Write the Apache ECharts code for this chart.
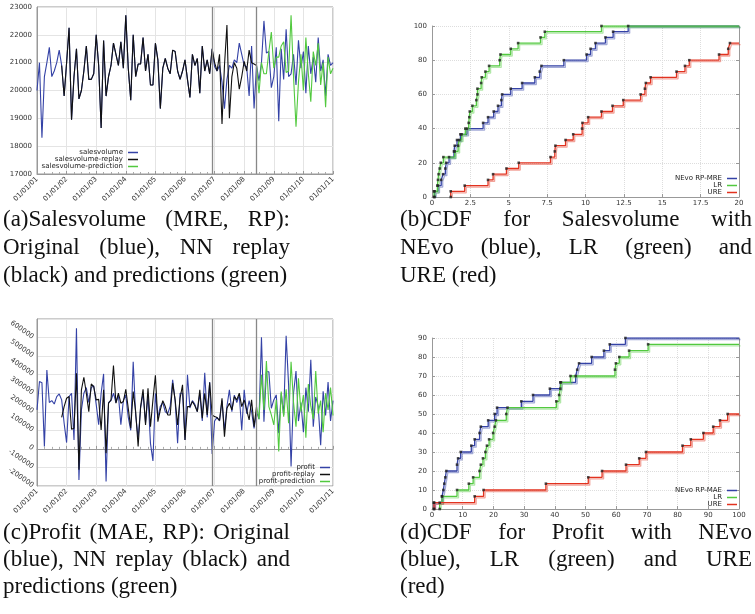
<!DOCTYPE html>
<html>
<head>
<meta charset="utf-8">
<script src="https://cdn.jsdelivr.net/npm/echarts@6/dist/echarts.min.js"></script>
<style>
  html, body { margin: 0; padding: 0; background: #fff; }
  #chart { width: 755px; height: 614px; }
</style>
</head>
<body>
<div id="chart"></div>
<script>
// --- DATA ---
const yearLabels = ['01/01/01', '01/01/02', '01/01/03', '01/01/04', '01/01/05', '01/01/06',
                    '01/01/07', '01/01/08', '01/01/09', '01/01/10', '01/01/11'];
const monthsPerYear = 12;
const splitMonths = [71, 89];   // end of training / end of replay

// monthly values, month 0 = 01/01/01
const salesOriginal = [
  20000, 21000, 18300, 20500, 21000, 21550, 20500, 20700, 21000, 21450,
  20900, 19800, 21000, 22250, 18950, 20500, 21500, 19700, 20000, 20700,
  21600, 20400, 20400, 20600, 22000, 20900, 18650, 21800, 19800, 20500,
  20900, 21700, 21300, 20900, 21750, 20800, 22700, 20800, 19650, 22000,
  20500, 20950, 20950, 21900, 20700, 21300, 20200, 20200, 21700, 21100,
  19350, 20800, 21150, 20800, 20600, 21450, 21400, 20700, 20400, 20700,
  21100, 20400, 19750, 21300, 20900, 21150, 19900, 21600, 20700, 21100,
  20600, 21500,
  20850, 20700, 20900, 20300, 19350, 20400, 20900, 20800, 21100, 21000,
  21700, 21300, 20900, 20850, 19800, 21600, 19350, 20900,
  20350, 21000, 22500, 21350, 21400, 20100, 20500, 21550, 18900, 21500,
  20400, 22200, 20500, 20600, 21300,
  20200, 21800, 20800, 21400, 19900, 21600, 20600, 21200, 20300, 21900,
  20700, 21100, 19800, 21300, 20900, 21000
];
const salesReplayStart = 10;
const salesReplay = [
  20900, 19800, 21000, 22250, 18950, 20500, 21500, 19700, 20000, 20700,
  21600, 20400, 20400, 20600, 22000, 20900, 18650, 21800, 19800, 20500,
  20900, 21700, 21300, 20900, 21750, 20800, 22700, 20800, 19650, 22000,
  20500, 20950, 20950, 21900, 20700, 21300, 20200, 20200, 21700, 21100,
  19350, 20800, 21150, 20800, 20600, 21450, 21400, 20700, 20400, 20700,
  21100, 20400, 19750, 21300, 20900, 21150, 19900, 21600, 20700, 21100,
  20600, 21500,
  21000, 20700, 21300, 18800, 20900, 22350, 19000, 20500, 21000, 20800,
  20050, 20500, 21050, 20700, 21450, 21000, 20950, 20900
];
const salesPredictionStart = 89;
const salesPrediction = [
  20900, 19900, 21000, 20600, 20600, 21400, 22100, 20800, 21200, 21200,
  21600, 21750, 20650, 20700, 22700, 20500, 18700, 20300, 21300, 20000,
  21900, 20600, 19600, 21400, 20900, 21700, 20200, 21000, 19400, 21200,
  20600, 20800
];

const profitOriginal = [
  210000, 363000, 357000, 13000, 425000, 250000, 260000, 242000, 282000, 296000,
  264000, 138000, 34000, 282000, 300000, 48000, 650000, -167000, 210000, 300000,
  330000, 250000, 330000, 340000, 240000, 130000, 300000, 404000, -176000,
  250000, 260000, 300000, 250000, 290000, 130000, 260000, 290000, 170000, 100000,
  470000, 180000, 60000, 220000, 300000, 140000, 290000, 30000, -65000, 300000,
  170000, 230000, 250000, 200000, 190000, 230000, 372000, 260000, 30000, 300000,
  300000, 48000, 400000, 220000, 260000, 240000, 200000, 300000, 150000, 410000,
  170000, 360000, -27000,
  150000, 170000, 150000, 260000, 100000, 230000, 318000, 200000, 290000, 250000,
  290000, 100000, 318000, 190000, 260000, 200000, 110000, 200000,
  160000, 601000, 147000, 416000, 416000, 219000, 264000, 291000, 84000, 300000,
  183000, 609000, 345000, -95000, 300000,
  420000, 150000, 250000, 90000, 330000, 200000, 480000, 120000, 280000, 230000,
  20000, 310000, 180000, 360000, 150000, 260000
];
const profitReplayStart = 10;
const profitReplay = [
  170000, 228000, 273000, 282000, 106000, 111000, 407000, -113000, 318000, 386000,
  300000, 201000, 350000, 336000, 264000, 267000, 102000, 318000, -23000, 246000,
  264000, 449000, 246000, 300000, 246000, 255000, 321000, 219000, 111000, 309000,
  201000, 13000, 228000, 321000, 129000, 327000, 120000, 264000, 397000, 147000,
  210000, 260000, 228000, 183000, 183000, 354000, 264000, 129000, 273000, 345000,
  48000, 228000, 228000, 255000, 232000, 201000, 318000, 165000, 300000, 183000,
  357000, 183000, 174000, 169000, 153000, 273000, 66000, 219000, 246000, 210000,
  282000, 264000, 300000, 228000, 264000, 210000, 156000, 264000, 120000, 228000
];
const profitPredictionStart = 89;
const profitPrediction = [
  228000, 160000, 399000, 210000, 474000, 228000, 183000, 129000, 264000, -14000,
  309000, 174000, 321000, 138000, 470000, 250000, 120000, 380000, 200000, 290000,
  60000, 350000, 230000, 160000, 420000, 190000, 260000, 90000, 300000, 210000,
  330000, 180000
];

// sorted error values for the CDF plots (30 test points each)
const cdfTotal = 30;
const mreNEvo = [0.17, 0.39, 0.6, 0.72, 0.87, 0.93, 1.11, 1.43, 1.48, 1.63, 1.85, 2.28, 3.33, 3.65, 4.02,
                 4.3, 4.52, 4.57, 5.13, 5.87, 6.7, 7.02, 7.13, 8.59, 10.07, 10.33, 10.65, 11.3, 11.8, 12.78];
const mreLR = [0.13, 0.35, 0.39, 0.43, 0.5, 0.57, 0.74, 1.48, 1.7, 1.78, 1.93, 2.17, 2.39, 2.43, 2.46,
               2.63, 2.89, 2.96, 2.96, 3.2, 3.24, 3.48, 3.72, 4.41, 4.46, 5.13, 5.61, 7.07, 7.35, 11.04];
const mreURE = [1.22, 2.13, 3.65, 3.98, 4.85, 5.65, 7.72, 8.0, 8.04, 8.7, 9.2, 9.78, 9.8, 10.17, 11.04,
                11.76, 12.46, 13.59, 13.87, 13.93, 14.24, 15.93, 16.48, 16.76, 18.7, 19.3, 19.41];
const maeNEvo = [0.65, 3.26, 3.7, 4.0, 4.35, 4.67, 8.15, 8.5, 9.35, 12.8, 13.9, 15.5, 15.9, 18.3, 20.4,
                 21.2, 29.1, 32.9, 38.4, 41.8, 46.8, 47.3, 47.9, 52, 56, 57.9, 63];
const maeLR = [2.5, 3.26, 8.15, 12, 13.4, 15.5, 15.9, 16.6, 17.4, 17.9, 18.6, 19.9, 20.4, 20.8, 24.2,
               24.6, 40.5, 41.4, 41.8, 42, 45.1, 59.6, 59.9, 61, 64.2, 70.4];
const maeURE = [0.65, 13.9, 16.8, 37.1, 50.9, 55.4, 63.2, 67.5, 69.7, 81.6, 84.3, 88.4, 91.6, 93.8, 96.3];

const captionA = ['(a)Salesvolume (MRE, RP):', 'Original (blue), NN replay', '(black) and predictions (green)'];
const captionB = ['(b)CDF for Salesvolume with', 'NEvo (blue), LR (green) and', 'URE (red)'];
const captionC = ['(c)Profit (MAE, RP): Original', '(blue), NN replay (black) and', 'predictions (green)'];
const captionD = ['(d)CDF for Profit with NEvo', '(blue), LR (green) and URE', '(red)'];

// --- STYLE ---
const BLUE = '#3442a6', BLACK = '#111111', GREEN = '#52c93f', RED = '#e2321f';
const LABEL = { fontSize: 7, color: '#333', fontFamily: 'DejaVu Sans', formatter: v => String(v) };
const captionFont = '23px "Liberation Serif", serif';

// --- HELPERS ---
const toPoints = (arr, start) => arr.map((v, i) => [start + i, v]);

const timeXAxis = (gridIndex) => ({
    gridIndex, type: 'value', min: 0, max: (yearLabels.length - 1) * monthsPerYear, interval: monthsPerYear,
    axisLine: { lineStyle: { color: '#999' } },
    axisTick: { inside: true, length: 3, lineStyle: { color: '#999' } },
    minorTick: { show: true, splitNumber: 4, length: 2, lineStyle: { color: '#aaa' } },
    axisLabel: { ...LABEL, rotate: 45, margin: 4, formatter: v => yearLabels[v / monthsPerYear] || '' },
    splitLine: { show: true, lineStyle: { color: '#e4e4e4' } }
});

const tsSeries = (name, arr, start, color, xi, extra) => Object.assign({
    name, type: 'line', xAxisIndex: xi, yAxisIndex: xi, data: toPoints(arr, start),
    symbol: 'none', lineStyle: { color, width: 1.1 }, itemStyle: { color }, silent: true
}, extra || {});

const splitMarks = {
    silent: true, symbol: ['none', 'none'], label: { show: false },
    lineStyle: { color: '#888', type: 'solid', width: 1.3 },
    data: splitMonths.map(m => ({ xAxis: m }))
};

const cdfPoints = (vals) => [[vals[0], 0]].concat(vals.map((v, i) => [v, (i + 1) / cdfTotal * 100]));

const fade = (hex) => {
    const n = parseInt(hex.slice(1), 16);
    return `rgba(${n >> 16},${(n >> 8) & 255},${n & 255},0.45)`;
};

const cdfSeries = (name, vals, idx, color, xmax) => {
    const pts = cdfPoints(vals);
    const last = pts[pts.length - 1];
    return [{
        name, type: 'line', step: 'end', xAxisIndex: idx, yAxisIndex: idx, data: pts.concat([[xmax, last[1]]]),
        symbol: 'none', itemStyle: { color }, silent: true,
        lineStyle: { color, width: 1.3, shadowColor: fade(color), shadowOffsetX: 1.5, shadowOffsetY: 1.5 }
    }, {
        type: 'scatter', xAxisIndex: idx, yAxisIndex: idx, data: pts, symbol: 'rect', symbolSize: 2.6,
        itemStyle: { color: '#222' }, silent: true, z: 5
    }];
};

const cdfAxes = (gridIndex, xmax, xint, ymax, yint) => ({
    x: {
        gridIndex, type: 'value', min: 0, max: xmax, interval: xint,
        axisLine: { lineStyle: { color: '#999' } },
        axisTick: { inside: true, length: 3, lineStyle: { color: '#999' } },
        axisLabel: { ...LABEL, margin: 3 },
        splitLine: { show: true, lineStyle: { color: '#ddd', type: 'dotted' } }
    },
    y: [{
        gridIndex, type: 'value', min: 0, max: ymax, interval: yint,
        axisLine: { show: true, lineStyle: { color: '#999' } },
        axisTick: { show: true, inside: true, length: 3, lineStyle: { color: '#999' } },
        axisLabel: { ...LABEL, margin: 5 },
        splitLine: { show: true, lineStyle: { color: '#ddd', type: 'dotted' } }
    }, {
        gridIndex, type: 'value', position: 'right', min: 0, max: ymax, interval: yint,
        axisLine: { show: true, lineStyle: { color: '#999' } },
        axisTick: { show: true, inside: true, length: 3, lineStyle: { color: '#999' } },
        axisLabel: { show: false }, splitLine: { show: false }
    }]
});

const legendBox = (names, right, top) => ({
    orient: 'vertical', align: 'right', right, top, padding: 0, itemGap: 0,
    itemWidth: 10, itemHeight: 1.5, icon: 'rect', selectedMode: false,
    textStyle: { fontSize: 7, color: '#222', fontFamily: 'DejaVu Sans', lineHeight: 7 },
    data: names
});

// justified caption words as graphic text
const measureCtx = document.createElement('canvas').getContext('2d');
measureCtx.font = captionFont;
const captionGraphics = (lines, x0, x1, ys) => {
    const els = [];
    lines.forEach((line, li) => {
        const words = line.split(' ');
        const widths = words.map(w => measureCtx.measureText(w).width);
        const total = widths.reduce((a, b) => a + b, 0);
        const last = li === lines.length - 1;
        const gap = last || words.length < 2 ? measureCtx.measureText(' ').width
                                              : (x1 - x0 - total) / (words.length - 1);
        let x = x0;
        words.forEach((w, wi) => {
            els.push({ type: 'text', x, y: ys[li], silent: true,
                       style: { text: w, font: captionFont, fill: '#111', verticalAlign: 'middle' } });
            x += widths[wi] + gap;
        });
    });
    return els;
};

// --- CHART ---
const axB = cdfAxes(1, 20, 2.5, 100, 20);
const axD = cdfAxes(3, 100, 10, 90, 10);

const option = {
    animation: false,
    textStyle: { fontFamily: 'DejaVu Sans' },
    grid: [
        { left: 37, top: 7, width: 296, height: 167, show: true, borderColor: '#999', borderWidth: 1, outerBoundsMode: 'none' },
        { left: 432, top: 26, width: 307, height: 171, outerBoundsMode: 'none' },
        { left: 37, top: 319, width: 296, height: 167, show: true, borderColor: '#999', borderWidth: 1, outerBoundsMode: 'none' },
        { left: 432, top: 338, width: 307, height: 171, outerBoundsMode: 'none' }
    ],
    xAxis: [timeXAxis(0), axB.x, timeXAxis(2), axD.x],
    yAxis: [
        { gridIndex: 0, type: 'value', min: 17000, max: 23000, interval: 1000,
          axisLine: { lineStyle: { color: '#999' } }, axisTick: { show: false },
          axisLabel: { ...LABEL, margin: 5 }, splitLine: { lineStyle: { color: '#e4e4e4' } } },
        axB.y[0],
        { gridIndex: 2, type: 'value', min: -200000, max: 700000, interval: 100000,
          axisLine: { lineStyle: { color: '#999' } }, axisTick: { show: false },
          axisLabel: { ...LABEL, margin: 4, rotate: -35, showMaxLabel: false },
          splitLine: { lineStyle: { color: '#e4e4e4' } } },
        axD.y[0],
        axB.y[1],
        axD.y[1]
    ],
    legend: [
        legendBox(['salesvolume', 'salesvolume-replay', 'salesvolume-prediction'], 617, 149),
        legendBox(['NEvo RP-MRE', 'LR', 'URE'], 18, 175),
        legendBox(['profit', 'profit-replay', 'profit-prediction'], 425, 464),
        legendBox(['NEvo RP-MAE', 'LR', 'URE'], 18, 487)
    ],
    series: [
        tsSeries('salesvolume', salesOriginal, 0, BLUE, 0, { markLine: splitMarks }),
        tsSeries('salesvolume-replay', salesReplay, salesReplayStart, BLACK, 0),
        tsSeries('salesvolume-prediction', salesPrediction, salesPredictionStart, GREEN, 0),
        tsSeries('profit', profitOriginal, 0, BLUE, 2, { markLine: splitMarks }),
        tsSeries('profit-replay', profitReplay, profitReplayStart, BLACK, 2),
        tsSeries('profit-prediction', profitPrediction, profitPredictionStart, GREEN, 2),
        ...cdfSeries('NEvo RP-MRE', mreNEvo, 1, BLUE, 20),
        ...cdfSeries('LR', mreLR, 1, GREEN, 20),
        ...cdfSeries('URE', mreURE, 1, RED, 20),
        ...cdfSeries('NEvo RP-MAE', maeNEvo, 3, BLUE, 100),
        ...cdfSeries('LR', maeLR, 3, GREEN, 100),
        ...cdfSeries('URE', maeURE, 3, RED, 100)
    ],
    graphic: [
        ...captionGraphics(captionA, 3, 290, [220, 248, 276]),
        ...captionGraphics(captionB, 400, 752, [220, 248, 276]),
        ...captionGraphics(captionC, 3, 290, [533, 560, 587]),
        ...captionGraphics(captionD, 400, 752, [533, 560, 587])
    ]
};

// right-hand panels: series use y axes 1 and 3 (4 and 5 are the mirrored right axes)
option.series.forEach(s => {
    if (s.xAxisIndex === 1) s.yAxisIndex = 1;
    if (s.xAxisIndex === 3) s.yAxisIndex = 3;
});

const chart = echarts.init(document.getElementById('chart'));
chart.setOption(option);
</script>
</body>
</html>
